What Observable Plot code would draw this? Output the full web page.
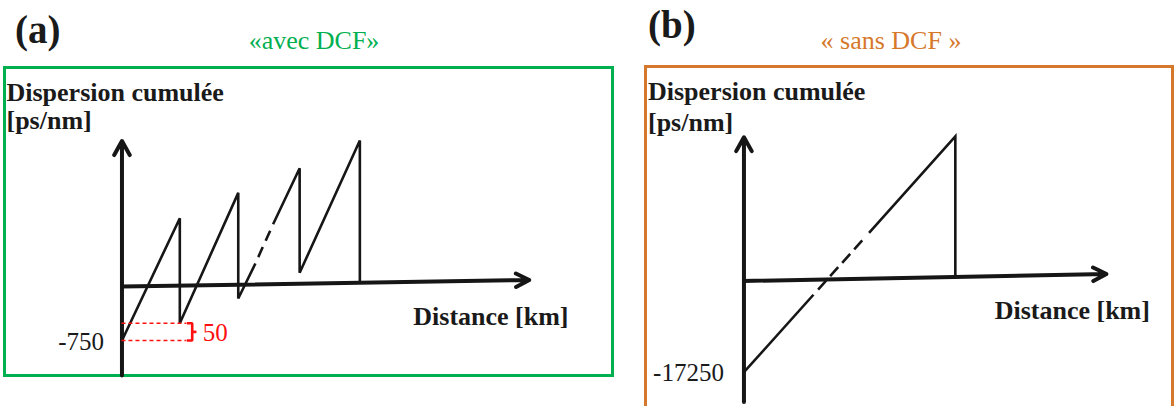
<!DOCTYPE html>
<html><head><meta charset="utf-8">
<script src="https://cdn.jsdelivr.net/npm/d3@7"></script>
<script src="https://cdn.jsdelivr.net/npm/@observablehq/plot@0.6"></script>
<style>
html,body{margin:0;padding:0;background:#fff;overflow:hidden;}
#wrap{position:relative;width:1176px;height:406px;overflow:hidden;font-family:"Liberation Serif","Times New Roman",serif;}
.lbl{position:absolute;line-height:1;white-space:nowrap;}
.panel{position:absolute;}
</style></head><body><div id="wrap"></div>
<script>
// ---------- data ----------
const panelLetters = ["(a)", "(b)"];
const panelTitles = ["«avec DCF»", "« sans DCF »"];
const yAxisTitle = "Dispersion cumulée\n[ps/nm]";
const xAxisTitle = "Distance [km]";

// (a) cumulative dispersion with DCF (schematic)
const distA = [0, 98, 98, 197, 197, 226, 256, 301, 301, 403, 403];
const dispA = [-750, 949, -510, 1301, -167, 320, 865, 1643, 190, 2028, 55];
const omittedA = [226, 256];        // spans omitted (dashed)
const ticksA = [-750];
const residualA = ["50"];           // residual dispersion per span
const yAxisA = [-1236, 2020];       // extent of the dispersion axis
const xAxisA = [690, 90];           // end of the distance axis (km, ps/nm)

// (b) cumulative dispersion without DCF
const distB = [0, 120, 216, 365, 365];
const dispB = [-17250, -2600, 9100, 27325, 775];
const omittedB = [120, 216];
const ticksB = [-17250];
const yAxisB = [-22900, 27200];
const xAxisB = [626, 1324];

// ---------- drawing ----------
const INK = "#161616";
const GREEN = "#00b050", ORANGE = "#d6782b", RED = "#ff1010";
const wrap = document.getElementById("wrap");

function addLabel(text, style) {
  const d = document.createElement("div");
  d.className = "lbl";
  d.textContent = text;
  Object.assign(d.style, style);
  wrap.appendChild(d);
}

function splitLine(dist, disp, omitted) {
  const pts = dist.map((x, i) => ({x, y: disp[i]}));
  const i1 = dist.indexOf(omitted[0]), i2 = dist.indexOf(omitted[1]);
  return [pts.slice(0, i1 + 1), pts.slice(i1, i2 + 1), pts.slice(i2)];
}

function panel(o) {
  const [s1, dash, s2] = splitLine(o.dist, o.disp, o.omitted);
  const lineOpt = {x: "x", y: "y", stroke: INK, strokeWidth: 2.6, strokeLinejoin: "miter", strokeMiterlimit: 3, strokeLinecap: "butt"};
  const marks = [
    Plot.frame({stroke: o.color, strokeWidth: 3}),
    Plot.text([yAxisTitle], {frameAnchor: "top-left", lineAnchor: "top", textAnchor: "start",
      dx: o.titleDx, dy: o.titleDy, lineHeight: o.titleLH, fontSize: 26, fontWeight: "bold", fill: "#1a1a1a"}),
    Plot.line(s1, lineOpt),
    Plot.line(dash, {...lineOpt, strokeDasharray: o.dashes}),
    Plot.line(s2, lineOpt),
    Plot.arrow([0], {x1: 0, y1: o.yAxis[0], x2: 0, y2: o.yAxis[1], stroke: INK, strokeWidth: 4, headLength: 6, headAngle: 58}),
    Plot.arrow([0], {x1: 0, y1: 0, x2: o.xAxis[0], y2: o.xAxis[1], stroke: INK, strokeWidth: 4, headLength: 5.6, headAngle: 54}),
    Plot.text(o.ticks, {x: 0, y: d => d, text: d => String(d), textAnchor: "end", dx: o.tickDx, dy: 1,
      fontSize: 25, fill: "#1a1a1a"}),
    Plot.text([xAxisTitle], {x: o.xLabel[0], y: o.xLabel[1], lineAnchor: "bottom", textAnchor: "middle",
      fontSize: 26, fontWeight: "bold", fill: "#1a1a1a"}),
    ...(o.extra || [])
  ];
  const svg = Plot.plot({
    width: o.width, height: o.height,
    marginTop: o.m[0], marginRight: o.m[1], marginBottom: o.m[2], marginLeft: o.m[3],
    x: {domain: o.xDomain, axis: null},
    y: {domain: o.yDomain, axis: null},
    style: {fontFamily: '"Liberation Serif","Times New Roman",serif', background: "transparent", overflow: "visible"},
    marks
  });
  const holder = document.createElement("div");
  holder.className = "panel";
  holder.style.left = o.left + "px";
  holder.style.top = o.top + "px";
  holder.appendChild(svg);
  wrap.appendChild(holder);
}

// residual marker (red) for panel (a)
const low = dispA[0], high = dispA[2], mid = (low + high) / 2;
const bracket = [{x: 110, y: high}, {x: 119, y: high}, {x: 119, y: low}, {x: 110, y: low}];
const extraA = [
  Plot.ruleY([low, high], {x1: 0, x2: 110, stroke: RED, strokeWidth: 1.3, strokeDasharray: "4 3"}),
  Plot.line(bracket, {x: "x", y: "y", stroke: RED, strokeWidth: 2.6, strokeLinejoin: "miter", strokeLinecap: "butt"}),
  Plot.ruleY([mid], {x1: 119, x2: 127, stroke: RED, strokeWidth: 2.6}),
  Plot.text(residualA, {x: 137, y: low, lineAnchor: "bottom", textAnchor: "start", fontSize: 25, fill: RED})
];

panel({
  left: 0, top: 60, width: 620, height: 322, m: [7, 8, 7, 4],
  xDomain: [-199, 831], yDomain: [-1236, 3042], color: GREEN,
  dist: distA, disp: dispA, omitted: omittedA, dashes: "0 7 11 7 11 7",
  ticks: ticksA, tickDx: -18, yAxis: yAxisA, xAxis: xAxisA, xLabel: [625, -528],
  titleDx: 2, titleDy: 13.8, titleLH: 1.08, extra: extraA
});

panel({
  left: 640, top: 60, width: 536, height: 362, m: [6, 4, 6, 5],
  xDomain: [-170, 740], yDomain: [-25620, 40560], color: ORANGE,
  dist: distB, disp: dispB, omitted: omittedB, dashes: "0 7 12 6 12 6 12 6 12 10",
  ticks: ticksB, tickDx: -20, yAxis: yAxisB, xAxis: xAxisB, xLabel: [567, -7091],
  titleDx: 2.5, titleDy: 11.5, titleLH: 1.2
});

// panel letters and titles
addLabel(panelLetters[0], {left: "15px", top: "10px", fontSize: "39px", fontWeight: "bold", color: "#1a1a1a"});
addLabel(panelLetters[1], {left: "648px", top: "5px", fontSize: "39px", fontWeight: "bold", color: "#1a1a1a"});
addLabel(panelTitles[0], {left: "314px", top: "28px", fontSize: "26px", color: GREEN, transform: "translateX(-50%)"});
addLabel(panelTitles[1], {left: "891px", top: "28px", fontSize: "26px", color: ORANGE, transform: "translateX(-50%)"});
</script></body></html>
